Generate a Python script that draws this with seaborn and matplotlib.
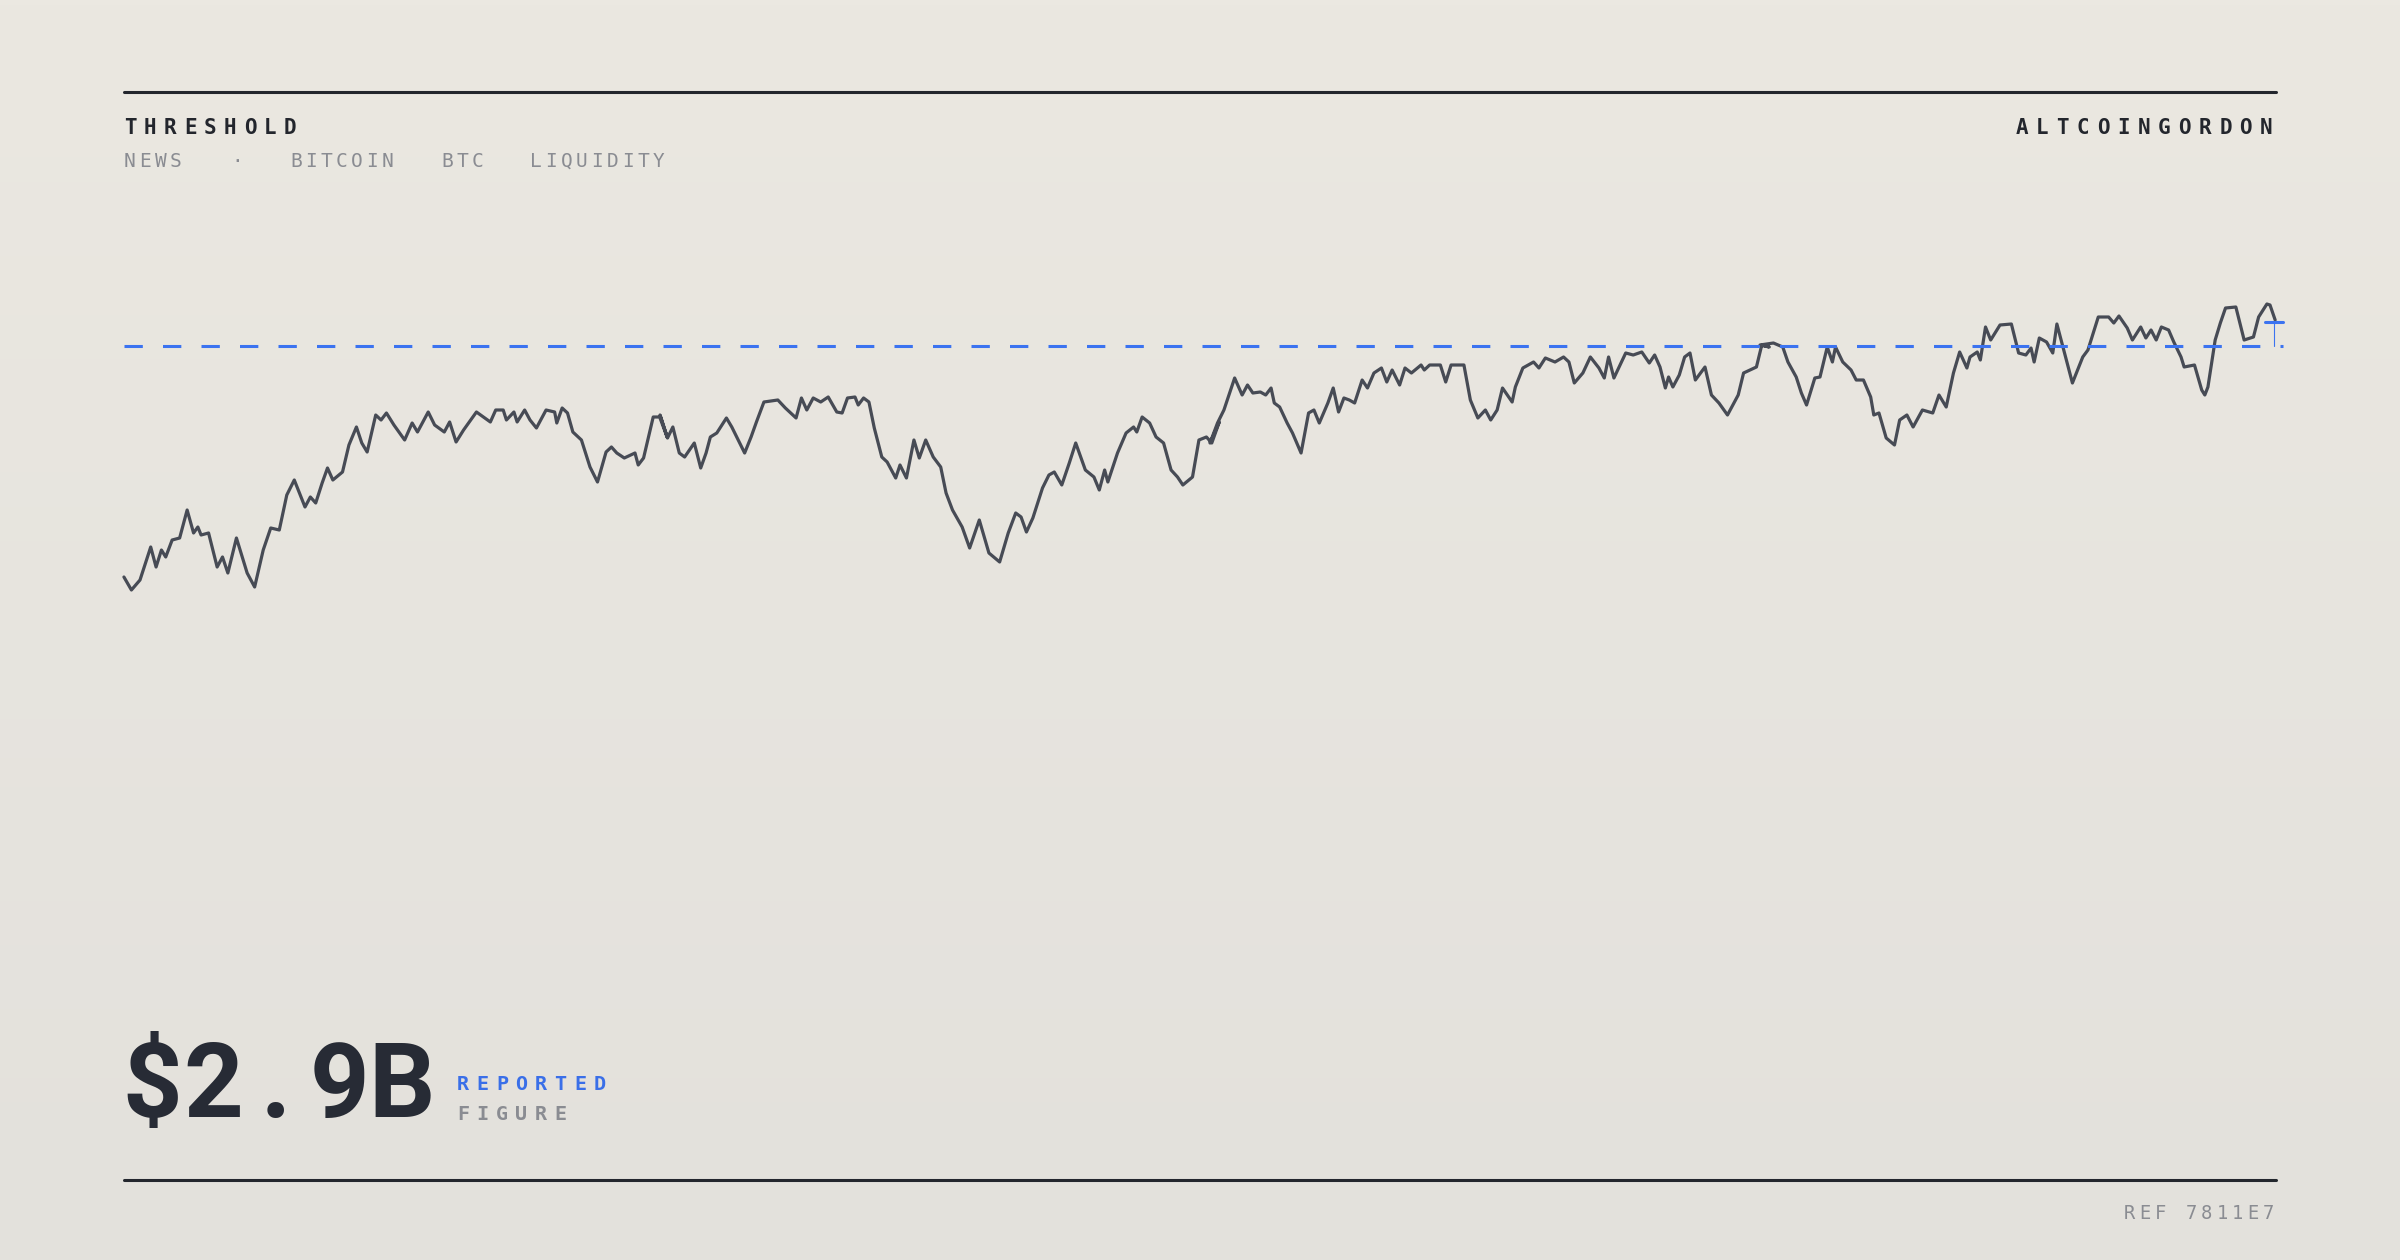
import numpy as np
import pandas as pd
import matplotlib
matplotlib.use("Agg")
import matplotlib.pyplot as plt
import seaborn as sns
from matplotlib.colors import LinearSegmentedColormap

sns.set_theme(style="white")
plt.rcParams['font.family'] = ['DejaVu Sans']

# data: four segments of (position reading, level)
seg1_x = [123,130,138,148,153,158,162,168,175,182,188,192,195,202,210,215,220,228,238,245,253,260,268,275,282,292,297,302,308,313,318,327,333,340,345,350,358,363,368,375,385,392,397,407,413,422,427,433,440,452,465,470,477,480,487,490,497,502,508,517,525,527,532,537,542,550,558,565,573,578,583,590,600,603,608,617,623,630]
seg1_v = [23,10,20,53,33,50,43,60,62,90,67,73,65,67,33,43,27,62,27,13,50,72,70,105,120,93,103,97,117,132,120,128,155,173,157,148,185,180,187,175,160,177,168,188,175,168,178,158,170,188,178,190,190,180,188,178,190,180,172,190,188,177,192,187,168,160,133,118,148,153,147,142,147,135,142,183,183,163]
seg2_x = [660,667,672,678,683,692,698,703,707,713,722,727,733,739,745,750,757,770,777,787,792,797,803,810,817,825,830,835,842,845,850,855,860,867,872,880,884,890,897,902,908,915,922,927,933,942,949,958,967,977,985,992,997,1002,1008,1017,1023,1028,1035,1042,1048,1057,1065,1070,1075,1078,1087,1095,1102,1105,1110,1117,1123,1130,1137,1143,1148,1157,1163,1170,1175,1182]
seg2_v = [185,162,173,147,143,157,132,147,163,167,182,173,160,147,163,178,198,200,192,182,202,190,202,198,203,188,187,202,203,195,202,198,172,143,138,122,135,122,160,142,160,143,133,107,90,73,52,80,47,38,67,87,83,68,82,112,125,128,115,137,157,130,123,110,130,118,147,167,173,168,183,177,163,157,130,123,115,123,160,163,157,178]
seg3_x = [1210,1217,1223,1233,1240,1245,1250,1257,1262,1267,1270,1275,1282,1287,1295,1302,1307,1312,1320,1325,1330,1335,1340,1345,1352,1357,1363,1370,1375,1380,1387,1392,1398,1407,1410,1415,1425,1430,1435,1447,1453,1460,1467,1472,1478,1483,1492,1495,1502,1512,1517,1523,1532,1540,1545,1550,1558,1565,1573,1578,1582,1587,1598,1605,1613,1620,1625,1630,1635,1638,1642,1648,1653,1658,1663,1672,1678,1685,1693,1703,1708,1720,1725,1732]
seg3_v = [157,177,190,222,205,215,207,208,205,212,197,193,177,167,147,187,190,177,197,212,188,202,200,197,220,212,227,232,218,230,215,232,227,235,230,235,235,218,235,235,200,182,190,180,190,212,198,213,232,238,232,242,238,243,238,217,227,243,232,222,243,222,247,245,248,237,245,233,212,223,213,225,243,247,220,233,205,197,185,205,227,233,255,253]
seg4_x = [1760,1773,1782,1787,1795,1800,1805,1813,1818,1825,1830,1833,1840,1848,1853,1860,1867,1870,1875,1882,1890,1895,1902,1908,1917,1927,1933,1940,1947,1953,1960,1963,1970,1973,1978,1983,1992,2003,2010,2017,2022,2025,2030,2037,2043,2047,2062,2072,2077,2087,2097,2102,2107,2115,2120,2128,2133,2138,2143,2148,2155,2160,2167,2170,2180,2187,2190,2193,2200,2205,2210,2220,2228,2237,2242,2250,2253,2258]
seg4_v = [255,257,253,238,223,207,195,222,223,253,238,253,238,230,220,220,203,185,187,162,155,180,185,173,190,187,205,193,227,248,232,243,248,240,273,260,275,276,247,245,252,238,262,258,247,276,217,243,250,283,283,277,284,272,260,273,262,270,260,273,270,258,243,233,235,210,205,213,260,277,292,293,260,263,283,296,295,280]
threshold = 254
marker_top = 278

# calibration of the readings (segment origin, stretch)
calib = [(110, 3 / 2.8), (660, 3 / 2.8), (1210, 3 / 2.8), (1760, 3 / 2.9)]
segs = [(seg1_x, seg1_v), (seg2_x, seg2_v), (seg3_x, seg3_v), (seg4_x, seg4_v)]
day, level = [], []
for (o, k), (xs, vs) in zip(calib, segs):
    day += [o + (x - o) * k for x in xs]
    level += vs

W, H = 2400, 1260
fig = plt.figure(figsize=(24, 12.6), dpi=100)

bg = fig.add_axes([0, 0, 1, 1])
grad = np.linspace(0, 1, 256).reshape(-1, 1)
cmap = LinearSegmentedColormap.from_list("bg", ["#ebe8e1", "#e3e1dc"])
bg.imshow(grad, aspect="auto", cmap=cmap, extent=[0, W, H, 0])
bg.set_xlim(0, W); bg.set_ylim(H, 0); bg.axis("off")

ax = fig.add_axes([0, (H - 600) / H, 1, 300 / H])
ax.set_xlim(0, W); ax.set_ylim(0, 300)
ax.patch.set_alpha(0); ax.axis("off")
df = pd.DataFrame({"day": day, "level": level})
sns.lineplot(data=df, x="day", y="level", ax=ax, color="#474b55", lw=2.3, sort=False)
ax.plot([124, 2283], [threshold, threshold], color="#3b73f0", lw=2.2, dashes=(6, 6.6))
ax.plot([2265, 2283], [marker_top, marker_top], color="#3b73f0", lw=2.2)
ax.plot([2274, 2274], [threshold, marker_top], color="#3b73f0", lw=0.8)

bg.plot([124, 2276], [92, 92], color="#23262d", lw=2.2)
bg.plot([124, 2276], [1180, 1180], color="#23262d", lw=2.2)

def spaced(x, y, s, adv, ha="left", lastw=0, **kw):
    if ha == "right":
        x = x - adv * (len(s) - 1) - lastw
    for i, c in enumerate(s):
        bg.text(x + i * adv, y, c, ha="left", va="baseline", **kw)

mono = "DejaVu Sans Mono"
spaced(124, 134, "THRESHOLD", 20, family=mono, weight="bold", fontsize=15, color="#23262d")
spaced(2272, 134, "ALTCOINGORDON", 20.4, ha="right", lastw=12, family=mono, weight="bold", fontsize=15, color="#23262d")
for x0, w in [(124, "NEWS"), (231, "·"), (290, "BITCOIN"), (441, "BTC"), (530, "LIQUIDITY")]:
    spaced(x0, 167, w, 15.3, family=mono, fontsize=14, color="#8a8c92")

for cx, c in zip([152, 213, 276, 339, 402], "$2.9B"):
    bg.text(cx, 1117, c, ha="center", va="baseline", family="Roboto", weight="bold", fontsize=75, color="#272b35")
spaced(457, 1090, "REPORTED", 19.5, family=mono, weight="bold", fontsize=14.5, color="#3a6fe8")
spaced(457, 1120, "FIGURE", 19.5, family=mono, weight="bold", fontsize=14.5, color="#8a8c92")
spaced(2273, 1219, "REF 7811E7", 15.5, ha="right", lastw=10, family=mono, fontsize=13.5, color="#8a8c92")

fig.savefig("out.png", dpi=100)
